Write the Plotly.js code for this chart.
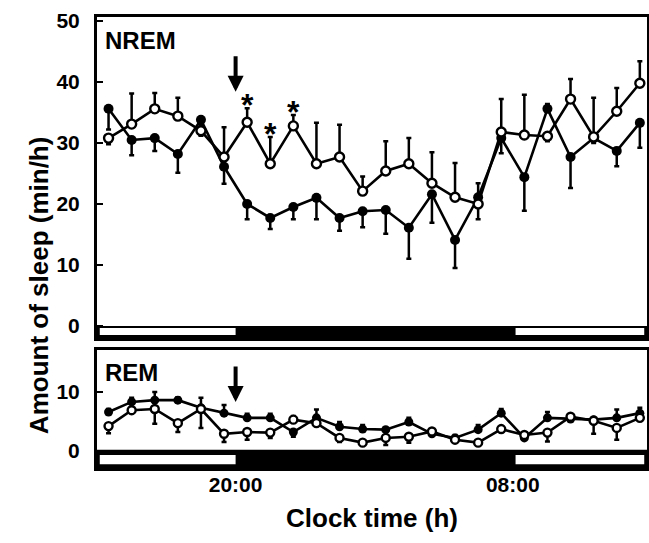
<!DOCTYPE html>
<html>
<head>
<meta charset="utf-8">
<script src="https://cdn.plot.ly/plotly-3.0.1.min.js"></script>
<style>html,body{margin:0;padding:0;background:#fff;}#chart{width:649px;height:543px;}</style>
</head>
<body>
<div id="chart"></div>
<script>
// Clock time of each hourly bin (hours; 24 = midnight)
var hours = [14.5, 15.5, 16.5, 17.5, 18.5, 19.5, 20.5, 21.5, 22.5, 23.5, 24.5, 25.5,
             26.5, 27.5, 28.5, 29.5, 30.5, 31.5, 32.5, 33.5, 34.5, 35.5, 36.5, 37.5];
var tickHours = [20, 32];
var tickLabels = ['20:00', '08:00'];

// NREM (min/h)
var nremClosed     = [35.6, 30.5, 30.8, 28.2, 33.8, 26.1, 20.0, 17.7, 19.5, 21.0, 17.7, 18.8,
                      19.0, 16.1, 21.6, 14.1, 21.1, 30.8, 24.4, 35.6, 27.7, 30.8, 28.7, 33.3];
var nremClosedUp   = [0, 0, 0, 0, 0, 0, 0, 0, 0, 0, 0, 0,
                      0, 0, 0, 0, 2.3, 0, 0, 0.8, 0, 0, 0, 0];
var nremClosedDown = [3.4, 2.5, 2.1, 3.1, 0.8, 2.8, 2.5, 1.8, 2.0, 3.5, 2.1, 2.6,
                      3.9, 5.1, 4.7, 4.6, 0, 2.5, 5.5, 0, 5.1, 0.8, 2.5, 4.1];
var nremOpen       = [30.8, 33.1, 35.6, 34.4, 32.0, 27.7, 33.4, 26.6, 32.8, 26.6, 27.7, 22.1,
                      25.4, 26.6, 23.4, 21.1, 20.0, 31.8, 31.3, 31.1, 37.2, 31.0, 35.2, 39.8];
var nremOpenUp     = [0, 5.0, 2.6, 3.0, 0, 4.9, 2.3, 4.4, 1.8, 6.7, 5.3, 2.4,
                      4.9, 4.2, 5.1, 5.6, 0, 5.4, 6.6, 0, 3.3, 6.4, 3.8, 3.6];
var nremOpenDown   = [1.0, 0, 0, 0, 0.8, 0, 0, 0, 0, 0, 0, 0,
                      0, 0, 0, 0, 2.5, 0, 0, 0.8, 0, 0, 0, 0];

// REM (min/h)
var remClosed     = [6.6, 8.3, 8.6, 8.6, 7.3, 6.4, 5.6, 5.6, 3.2, 5.6, 4.1, 3.7,
                     3.6, 4.9, 2.9, 2.2, 3.6, 6.4, 2.2, 5.6, 5.4, 5.3, 5.6, 6.4];
var remClosedUp   = [0.5, 0.7, 1.4, 0.5, 1.7, 1.4, 0.7, 0.7, 0, 1.4, 0.8, 0.7,
                     0, 0.7, 0, 0.5, 0.8, 0.7, 0, 1.0, 0, 0, 1.4, 0.9];
var remClosedDown = [0, 0, 0, 0, 0, 0, 0, 0, 0.8, 0, 0, 0,
                     0, 0, 0, 0, 0, 0, 0, 0, 0, 0, 0, 0];
var remOpen       = [4.2, 6.9, 7.1, 4.7, 7.1, 2.9, 3.2, 3.1, 5.3, 4.7, 2.2, 1.4,
                     2.2, 2.4, 3.3, 1.9, 1.4, 3.7, 2.7, 3.1, 5.8, 5.1, 3.9, 5.6];
var remOpenUp     = [0, 0, 0, 0, 0, 0, 0, 0, 0.6, 0, 0, 0,
                     0, 0, 0, 0, 0, 0, 0, 0, 0, 0, 0, 0];
var remOpenDown   = [1.2, 0, 2.5, 1.5, 3.2, 1.4, 1.3, 0.9, 0, 0, 0.7, 0,
                     1.2, 1.0, 0, 0, 0.5, 0, 0, 1.5, 0, 2.2, 2.0, 0];

// Light / dark periods (hours)
var lightPeriods = [[14, 20], [32, 37.81]];
var injectionTime = 20;
var starBins = [6, 7, 8];   // indices of bins marked with *

var F = 'Arial, "Liberation Sans", Helvetica, sans-serif';
var xr = [14, 37.81];

function tr(y, up, down, xa, ya, open, msize) {
  return {
    x: hours, y: y, xaxis: xa, yaxis: ya, type: 'scatter', mode: 'lines+markers',
    line: {color: '#000', width: 2.6},
    marker: {size: msize, color: open ? '#fff' : '#000', line: {color: '#000', width: open ? 2.4 : 0}, symbol: 'circle'},
    error_y: {type: 'data', symmetric: false, array: up, arrayminus: down, color: '#000', thickness: 2.5, width: 2.5},
    showlegend: false, hoverinfo: 'skip', cliponaxis: false
  };
}

var data = [
  tr(nremClosed, nremClosedUp, nremClosedDown, 'x', 'y', false, 10),
  tr(nremOpen, nremOpenUp, nremOpenDown, 'x', 'y', true, 9),
  tr(remClosed, remClosedUp, remClosedDown, 'x2', 'y2', false, 9),
  tr(remOpen, remOpenUp, remOpenDown, 'x2', 'y2', true, 8)
];

var shapes = [];
function strip(xref, yref, y0, y1, w0, w1) {
  shapes.push({type: 'rect', xref: xref, yref: yref, x0: xr[0], x1: xr[1], y0: y0, y1: y1,
               fillcolor: '#000', line: {width: 0}, layer: 'above'});
  lightPeriods.forEach(function (p) {
    shapes.push({type: 'rect', xref: xref, yref: yref, x0: p[0] + 0.12, x1: p[1] - (p[1] > 37 ? 0.12 : 0), y0: w0, y1: w1,
                 fillcolor: '#fff', line: {width: 0}, layer: 'above'});
  });
}
strip('x', 'y', -2.0, 0, -1.5, -0.35);
strip('x2', 'y2', -2.9, 0.2, -2.25, -0.7);

var annotations = [
  {xref: 'paper', yref: 'y domain', x: 0.01, y: 0.975, xanchor: 'left', yanchor: 'top', showarrow: false,
   text: 'NREM', font: {family: F, size: 24, color: '#000', weight: 'bold'}},
  {xref: 'paper', yref: 'y2 domain', x: 0.01, y: 0.94, xanchor: 'left', yanchor: 'top', showarrow: false,
   text: 'REM', font: {family: F, size: 24, color: '#000', weight: 'bold'}},
  {xref: 'paper', yref: 'paper', x: -0.104, y: 0.405, xanchor: 'center', yanchor: 'middle', showarrow: false,
   textangle: -90, text: 'Amount of sleep (min/h)', font: {family: F, size: 26, color: '#000', weight: 'bold'}},
  {xref: 'x', yref: 'y', x: injectionTime, y: 38.4, ax: 0, ay: -37, showarrow: true, text: '',
   arrowhead: 2, arrowsize: 0.8, arrowwidth: 4, arrowcolor: '#000', standoff: 0},
  {xref: 'x2', yref: 'y2', x: injectionTime, y: 8.3, ax: 0, ay: -37, showarrow: true, text: '',
   arrowhead: 2, arrowsize: 0.8, arrowwidth: 4, arrowcolor: '#000', standoff: 0}
];
starBins.forEach(function (i) {
  annotations.push({xref: 'x', yref: 'y', x: hours[i], y: nremOpen[i] + nremOpenUp[i], yanchor: 'bottom',
    xanchor: 'center', showarrow: false, text: '*', yshift: -17,
    font: {family: F, size: 32, color: '#000', weight: 'bold'}});
});

var axLine = {showline: true, mirror: true, linecolor: '#000', linewidth: 3, showgrid: false, zeroline: false};
var tickFont = {family: F, size: 21, color: '#000', weight: 'bold'};

var layout = {
  width: 649, height: 543,
  margin: {l: 97, r: 2, t: 17, b: 75},
  paper_bgcolor: '#fff', plot_bgcolor: '#fff',
  font: {family: F, color: '#000'},
  xaxis: Object.assign({}, axLine, {domain: [0, 1], anchor: 'y', range: xr, ticks: '', showticklabels: false}),
  yaxis: Object.assign({}, axLine, {domain: [0.288, 1], anchor: 'x', range: [-2.0, 50.66],
    tickvals: [0, 10, 20, 30, 40, 50], ticks: 'inside', ticklen: 6, tickwidth: 2.5, tickcolor: '#000',
    tickfont: tickFont, ticklabelstandoff: 10}),
  xaxis2: Object.assign({}, axLine, {domain: [0, 1], anchor: 'y2', range: xr, ticks: '',
    tickvals: tickHours, ticktext: tickLabels, tickfont: tickFont, ticklabelstandoff: -4,
    title: {text: 'Clock time (h)', font: {family: F, size: 26, color: '#000', weight: 'bold'}, standoff: 14}}),
  yaxis2: Object.assign({}, axLine, {domain: [0, 0.2616], anchor: 'x2', range: [-2.9, 17.1],
    tickvals: [0, 10], ticks: 'inside', ticklen: 6, tickwidth: 2.5, tickcolor: '#000',
    tickfont: tickFont, ticklabelstandoff: 10}),
  shapes: shapes,
  annotations: annotations
};

Plotly.newPlot('chart', data, layout, {displayModeBar: false, staticPlot: true});
</script>
</body>
</html>
